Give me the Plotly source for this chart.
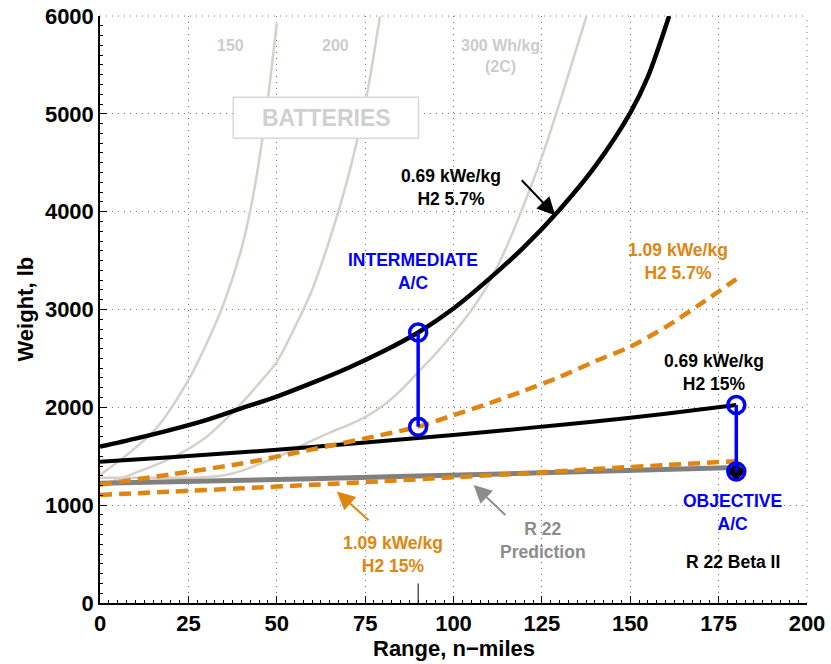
import plotly.graph_objects as go

# ---------------- data ----------------
# Battery curves (gray)
bat150_x = [0, 8, 16, 25, 30, 35, 40, 43, 46, 48, 50]
bat150_y = [1309, 1525, 1790, 2279, 2640, 3060, 3620, 4100, 4760, 5300, 5920]

bat200_x = [0, 10, 20, 30, 40, 45, 50, 55, 60, 65, 70, 75, 79.2]
bat200_y = [1200, 1330, 1478, 1695, 2040, 2245, 2465, 2810, 3200, 3720, 4330, 5100, 5996]

bat300_x = [0, 10, 20, 28, 35, 40, 45, 50, 55, 60, 65, 70, 75, 80, 85, 90, 95, 100, 105, 110, 115, 120, 125, 130, 137.6]
bat300_y = [1280, 1280, 1280, 1283, 1305, 1350, 1420, 1490, 1575, 1660, 1742, 1815, 1900, 2015, 2170, 2360, 2550,
            2760, 2990, 3270, 3640, 4080, 4560, 5110, 5996]

# Fuel cell, 0.69 kWe/kg, H2 5.7%
fc069_57_x = [0, 10, 20, 30, 40, 50, 60, 70, 80, 90, 100, 110, 120, 130, 140, 150, 155, 161]
fc069_57_y = [1598, 1680, 1770, 1870, 1990, 2110, 2250, 2400, 2570, 2765, 3010, 3310, 3640, 4020, 4460, 5010, 5380, 6000]

# Fuel cell, 0.69 kWe/kg, H2 15%
fc069_15_x = [0, 20, 40, 60, 80, 100, 120, 140, 160, 180]
fc069_15_y = [1445, 1490, 1540, 1595, 1655, 1718, 1785, 1855, 1935, 2023]

# Fuel cell, 1.09 kWe/kg, H2 5.7%
fc109_57_x = [0, 20, 40, 60, 76, 90, 100, 110, 120, 130, 140, 150, 160, 170, 180]
fc109_57_y = [1210, 1315, 1425, 1570, 1690, 1802, 1920, 2040, 2170, 2310, 2470, 2620, 2820, 3060, 3310]

# Fuel cell, 1.09 kWe/kg, H2 15%
fc109_15_x = [0, 20, 40, 60, 80, 100, 120, 140, 160, 180]
fc109_15_y = [1105, 1138, 1172, 1208, 1245, 1285, 1325, 1370, 1410, 1450]

# R 22 prediction
r22_x = [0, 60, 120, 180]
r22_y = [1224, 1270, 1325, 1384]

# Design points
inter_x = [90, 90]
inter_y = [2765, 1802]
obj_x = [180, 180]
obj_y = [2023, 1343]
beta_x = [180]
beta_y = [1343]
mark90_x = [90, 90]
mark90_y = [0, 200]

# Ticks
x_ticks = [0, 25, 50, 75, 100, 125, 150, 175, 200]
y_ticks = [0, 1000, 2000, 3000, 4000, 5000, 6000]

FONT = "Liberation Sans, Arial, Helvetica, sans-serif"
ORANGE = "#e0850f"
BATGRAY = "#d5d1c9"
LABGRAY = "#cccccc"
BLUE = "#0000ff"
GRID = "#777777"

fig = go.Figure()

def line(x, y, color, width, dash="solid", shape="spline"):
    fig.add_trace(go.Scatter(x=x, y=y, mode="lines",
                             line=dict(color=color, width=width, dash=dash, shape=shape, smoothing=0.8),
                             hoverinfo="skip", showlegend=False))

line(bat150_x, bat150_y, BATGRAY, 2.5)
line(bat200_x, bat200_y, BATGRAY, 2.5)
line(bat300_x, bat300_y, BATGRAY, 2.5)
line(fc069_57_x, fc069_57_y, "black", 4.5)
line(fc069_15_x, fc069_15_y, "black", 4)
line(r22_x, r22_y, "#808080", 5)
line(fc109_57_x, fc109_57_y, ORANGE, 4.5, "12px,7px")
line(fc109_15_x, fc109_15_y, ORANGE, 4.5, "12px,7px")
line(mark90_x, mark90_y, "black", 1, shape="linear")

# R22 Beta II marker
fig.add_trace(go.Scatter(x=beta_x, y=beta_y, mode="markers",
                         marker=dict(symbol="diamond", size=14, color="black"),
                         hoverinfo="skip", showlegend=False))
# Design points
for xs, ys in ((inter_x, inter_y), (obj_x, obj_y)):
    fig.add_trace(go.Scatter(x=xs, y=ys, mode="lines+markers",
                             line=dict(color=BLUE, width=3.5),
                             marker=dict(symbol="circle-open", size=17, color=BLUE, line=dict(width=3.5)),
                             hoverinfo="skip", showlegend=False))

# BATTERIES box
fig.add_shape(type="rect", x0=37.7, x1=90.1, y0=4751, y1=5169, xref="x", yref="y",
              line=dict(color="#d8d8d8", width=1.5), fillcolor="white", layer="above")

def text(x, y, s, color, size=17.5):
    fig.add_annotation(x=x, y=y, text=s, showarrow=False, xref="x", yref="y",
                       font=dict(family=FONT, size=size, color=color), align="center")

text(99.3, 4248, "<b>0.69 kWe/kg<br>H2 5.7%</b>", "black")
text(88.6, 3391, "<b>INTERMEDIATE<br>A/C</b>", BLUE)
text(163.6, 3493, "<b>1.09 kWe/kg<br>H2 5.7%</b>", ORANGE)
text(173.8, 2361, "<b>0.69 kWe/kg<br>H2 15%</b>", "black")
text(178.8, 921, "<b>OBJECTIVE<br>A/C</b>", BLUE)
text(179.2, 421, "<b>R 22 Beta II</b>", "black")
text(125.3, 636, "<b>R 22<br>Prediction</b>", "#8c8c8c")
text(82.9, 498, "<b>1.09 kWe/kg<br>H2 15%</b>", ORANGE)
text(36.8, 5697, "<b>150</b>", LABGRAY, 16)
text(66.5, 5697, "<b>200</b>", LABGRAY, 16)
text(113.2, 5590, "<b>300 Wh/kg<br>(2C)</b>", LABGRAY, 16)
text(64, 4962, "<b>BATTERIES</b>", "#d0d0d0", 23)

def arrow(hx, hy, tx, ty, color):
    fig.add_annotation(x=hx, y=hy, ax=tx, ay=ty, xref="x", yref="y", axref="x", ayref="y",
                       text="", showarrow=True, arrowhead=2, arrowsize=1.8, arrowwidth=2,
                       arrowcolor=color, standoff=0)

arrow(128.8, 3962, 118.9, 4337, "black")
arrow(67, 1139, 76.4, 833, ORANGE)
arrow(105.7, 1207, 115.1, 884, "#8c8c8c")

# Axis titles
fig.add_annotation(x=0.5, y=0, xref="paper", yref="paper", yshift=-45, yanchor="middle",
                   text="<b>Range, n\u2212miles</b>", showarrow=False,
                   font=dict(family=FONT, size=22, color="black"))
fig.add_annotation(x=0, y=0.5, xref="paper", yref="paper", xshift=-75, xanchor="center",
                   text="<b>Weight, lb</b>", textangle=-90, showarrow=False,
                   font=dict(family=FONT, size=22, color="black"))

axis_common = dict(showline=True, linecolor="black", linewidth=1.5, mirror=False, automargin=False,
                   ticks="inside", ticklen=7, tickcolor="black", tickwidth=1,
                   ticklabeloverflow="allow",
                   showgrid=True, gridcolor=GRID, gridwidth=1, griddash="1px,5px",
                   zeroline=False, tickfont=dict(family=FONT, size=22, color="black"))

fig.update_xaxes(range=[0, 200], tickvals=x_ticks, ticktext=[f"<b>{v}</b>" for v in x_ticks],
                 minor=dict(ticks="inside", dtick=2.5, ticklen=3, tickcolor="black", showgrid=False),
                 **axis_common)
fig.update_yaxes(range=[0, 6000], tickvals=y_ticks, ticktext=[f"<b>{v}</b>" for v in y_ticks],
                 minor=dict(ticks="inside", dtick=100, ticklen=3, tickcolor="black", showgrid=False),
                 **axis_common)

# top / right dotted grid borders (paper refs so they are not clipped)
fig.add_shape(type="line", x0=0, x1=1, y0=1, y1=1, xref="paper", yref="paper",
              line=dict(color=GRID, width=1, dash="1px,5px"), layer="below")
fig.add_shape(type="line", x0=1, x1=1, y0=0, y1=1, xref="paper", yref="paper",
              line=dict(color=GRID, width=1, dash="1px,5px"), layer="below")

fig.update_layout(width=831, height=664, margin=dict(l=100, r=24, t=16, b=61, autoexpand=False),
                  plot_bgcolor="white", paper_bgcolor="white", showlegend=False)

# remove the default page margin so the figure sits at the window's top-left corner
fig.write_html("out.html", config={"displayModeBar": False},
               post_script="document.body.style.margin='0';")
